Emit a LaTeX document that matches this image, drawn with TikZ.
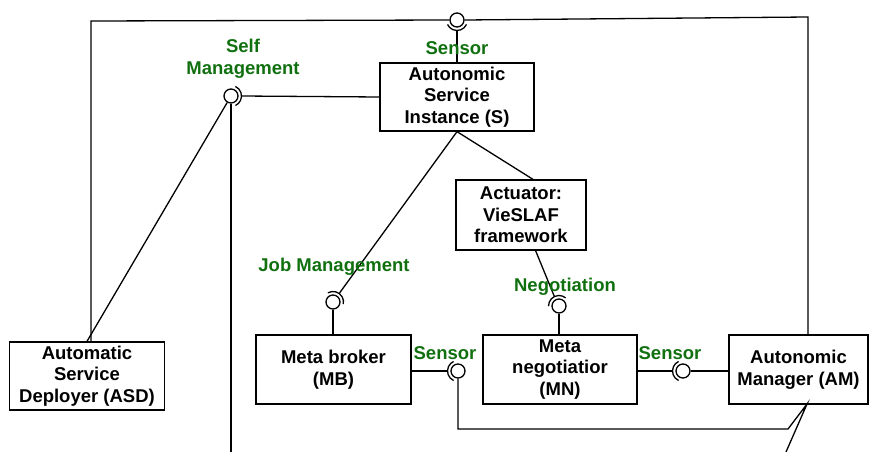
\documentclass[tikz,border=0pt]{standalone}
\usepackage{fontspec}
\setmainfont{Liberation Sans}
\usetikzlibrary{calc}
\definecolor{lblgreen}{RGB}{16,112,16}
\begin{document}
\begin{tikzpicture}[x=1pt,y=-1pt, line width=1.3pt,
  box/.style={draw, fill=white, align=center, inner sep=0pt, font=\fontsize{18.5}{21.7}\selectfont\bfseries},
  lolli/.style={draw, fill=white, circle, minimum size=14pt, inner sep=0pt},
  lbl/.style={text=lblgreen, align=center, inner sep=0pt, font=\fontsize{18.5}{22}\selectfont\bfseries}]
\useasboundingbox (0,0) rectangle (872,452);

% boxes
\node[box, minimum width=154pt, minimum height=68pt] (SI) at (457,97) {Autonomic\\Service\\Instance (S)};
\node[box, minimum width=130pt, minimum height=70pt] (Act) at (521,215) {Actuator:\\VieSLAF\\framework};
\node[box, minimum width=155pt, minimum height=69pt] (MB) at (333.5,369.5) {Meta broker\\(MB)};
\node[box, minimum width=154pt, minimum height=69pt] (MN) at (560,369.5) {Meta\\negotiatior\\(MN)};
\node[box, minimum width=139pt, minimum height=69pt] (AM) at (798.5,369.5) {Autonomic\\Manager (AM)};
\node[box, minimum width=155pt, minimum height=68pt] (ASD) at (87,376) {Automatic\\Service\\Deployer (ASD)};

% lollipops
\node[lolli] (T) at (457,20) {};
\node[lolli] (SM) at (231,96) {};
\node[lolli] (JM) at (333,302) {};
\node[lolli] (NG) at (559,306) {};
\node[lolli] (S1) at (458,371) {};
\node[lolli] (S2) at (683,371) {};

% socket points
\coordinate (Ts) at ($(T)+(90:10.5)$);
\coordinate (SMs) at ($(SM)+(0:10.5)$);
\coordinate (JMs) at ($(JM)+(-54:10.5)$);
\coordinate (NGs) at ($(NG)+(-116:10.5)$);
\coordinate (S1s) at ($(S1)+(180:10.5)$);
\coordinate (S2s) at ($(S2)+(180:10.5)$);

% sockets
\draw ($(T)+(25:10.5)$) arc[start angle=25, end angle=155, radius=10.5];
\draw ($(SM)+(-65:10.5)$) arc[start angle=-65, end angle=65, radius=10.5];
\draw ($(JM)+(-119:10.5)$) arc[start angle=-119, end angle=11, radius=10.5];
\draw ($(NG)+(-181:10.5)$) arc[start angle=-181, end angle=-51, radius=10.5];
\draw ($(S1)+(115:10.5)$) arc[start angle=115, end angle=245, radius=10.5];
\draw ($(S2)+(115:10.5)$) arc[start angle=115, end angle=245, radius=10.5];

% corner coordinates
\coordinate (tl) at (91,21);
\coordinate (tr) at (808,17);
\coordinate (bot) at (0,452);
\coordinate (AMb) at (807,404);
\coordinate (br) at (788,429);
\coordinate (amdown) at (786,452);
\coordinate (ActT) at ($(Act.north)+(12,0)$);

% connectors
\draw (tl |- ASD.north) -- (tl) -- (T.west);
\draw (T.east) -- (tr) -- (tr |- AM.north);
\draw (Ts) -- (SI.north);
\draw (SMs) -- (SI.west);
\draw (SM) -- (ASD.north);
\draw (SM.south) -- (SM.south |- bot);
\draw (SI.south) -- (JMs);
\draw (JM.south) -- (JM.south |- MB.north);
\draw (SI.south) -- (ActT);
\draw (Act) -- (NGs);
\draw (NG.south) -- (NG.south |- MN.north);
\draw (MB.east |- S1s) -- (S1s);
\draw (S1.south) -- (S1.south |- br) -- (br) -- (AMb) -- (amdown);
\draw (MN.east |- S2s) -- (S2s);
\draw (S2.east) -- (AM.west |- S2.east);

% labels
\node[lbl] (lT) at (457,48) {Sensor};
\node[lbl] (lSM) at (243,58.5) {Self\\Management};
\node[lbl, anchor=base] (lJM) at (334,271.5) {Job Management};
\node[lbl, anchor=base] (lNG) at (565,291.5) {Negotiation};
\node[lbl] (lS1) at (445,353) {Sensor};
\node[lbl] (lS2) at (670,353) {Sensor};
\end{tikzpicture}
\end{document}
